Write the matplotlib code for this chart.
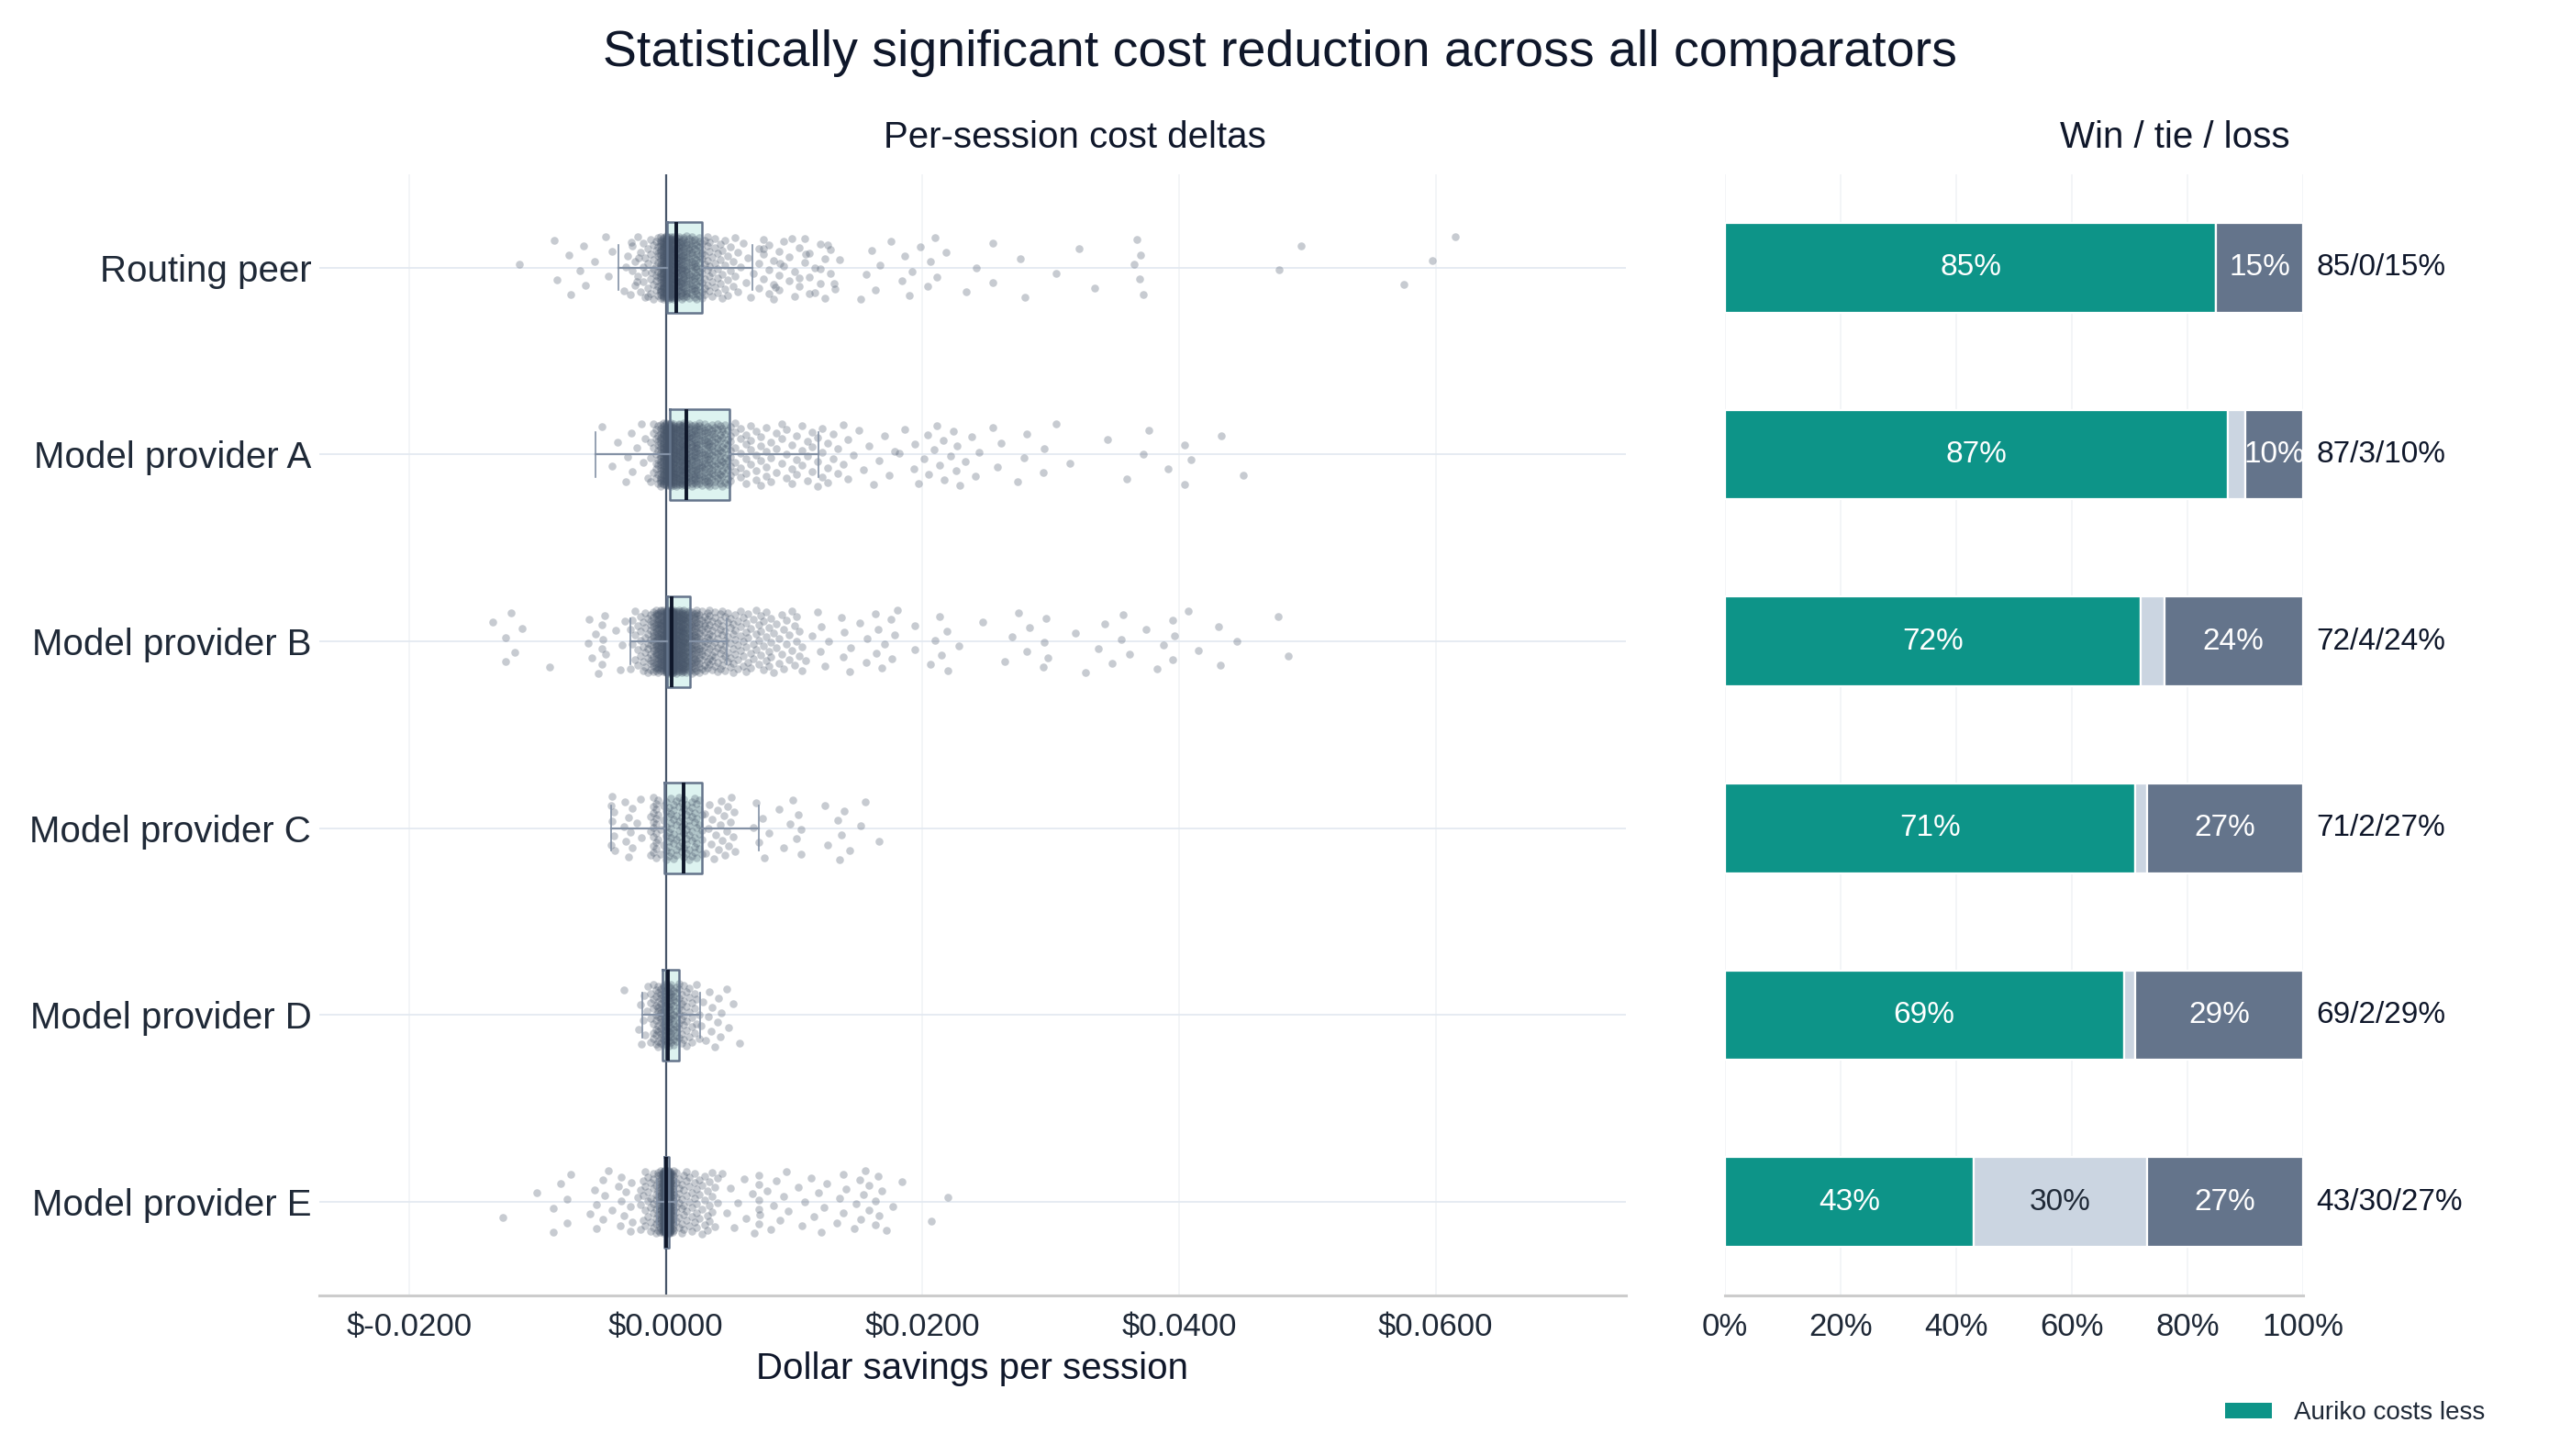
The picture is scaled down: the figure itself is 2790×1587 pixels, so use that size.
import numpy as np
import matplotlib
matplotlib.use('Agg')
import matplotlib.pyplot as plt
from matplotlib.patches import Patch
from matplotlib.ticker import FuncFormatter

plt.rcParams['font.family'] = ['Liberation Sans', 'DejaVu Sans']

categories = ['Routing peer', 'Model provider A', 'Model provider B',
              'Model provider C', 'Model provider D', 'Model provider E']

# per-session deltas, in units of $0.0001 (value -> how many sessions), plus single points
rp_core_vals = [-30, -28, -26, -24, -22, -20, -18, -16, -14, -12, -10, -8, -6, -4, -2,
                0, 2, 4, 6, 8, 10, 12, 14, 16, 18, 20, 22, 24, 26, 28,
                30, 32, 34, 36, 38, 40, 42, 44, 46, 48, 50, 52, 54, 56, 58, 60, 62, 64, 66, 68,
                72, 76, 80, 84, 88, 92, 96, 100, 104, 108, 112, 116, 120, 124, 128, 132]
rp_core_counts = [1, 1, 2, 2, 2, 2, 3, 3, 3, 4, 5, 6, 9, 24, 40,
                  45, 42, 38, 32, 26, 20, 18, 16, 15, 14, 13, 12, 11, 10, 9,
                  6, 5, 5, 4, 4, 4, 3, 3, 3, 3, 2, 2, 2, 2, 1, 1, 1, 1, 1, 1,
                  3, 3, 3, 3, 3, 2, 2, 2, 2, 2, 2, 2, 2, 2, 2, 1]
rp_sparse = [-114, -87, -85, -76, -74, -67, -64, -63, -56, -47, -45, -42, -33, -31, -27, -23, -21, -14, -11,
             76, 85, 89, 98, 104, 109, 112, 120, 126, 131, 135, 152, 156, 160, 163, 167, 175, 184, 186,
             190, 192, 198, 204, 206, 210, 211, 218, 234, 242, 255, 255, 276, 280, 304, 322, 334,
             365, 367, 369, 370, 372, 478, 495, 575, 597, 615]

a_core_vals = [-12, -10, -8, -6, -4, -2, 0, 2, 4, 6, 8, 10, 12, 14, 16,
               18, 20, 22, 24, 26, 28, 30, 32, 34, 36, 38, 40, 42, 44, 46, 48, 50,
               54, 58, 62, 66, 70, 74, 78, 82, 86, 90, 94, 98, 102, 106, 110, 114, 118, 122, 126,
               130, 134, 138, 142, 146, 150, 154, 158, 162, 166, 170, 174, 178]
a_core_counts = [3, 4, 6, 9, 22, 34, 44, 46, 40, 34, 30, 28, 26, 24, 22,
                 18, 17, 16, 15, 14, 14, 13, 12, 12, 11, 11, 10, 10, 9, 9, 8, 8,
                 5, 5, 5, 4, 4, 4, 4, 3, 3, 3, 3, 3, 3, 3, 3, 3, 3, 3, 3,
                 2, 2, 2, 2, 1, 1, 1, 1, 1, 1, 1, 1, 1]
a_sparse = [-50, -42, -38, -31, -30, -27, -26, -23, -19, -18, -16, -14,
            182, 186, 193, 194, 197, 201, 204, 205, 209, 211, 213, 216, 217, 222, 224, 226, 227,
            229, 233, 238, 241, 244, 255, 258, 261, 274, 279, 281, 294, 295, 304, 315, 344, 359,
            372, 376, 391, 404, 404, 409, 433, 450]

b_core_vals = [-28, -26, -24, -22, -20, -18, -16, -14, -12, -10, -8, -6, -4, -2, 0,
               1, 2, 3, 4, 5, 6, 8, 10, 12, 14, 16, 18,
               20, 22, 24, 26, 28, 30, 32, 34, 36, 38, 40, 42, 44, 46, 48, 50, 52, 54, 56, 58,
               60, 62, 64, 66, 68, 70, 72, 74, 76, 78, 80, 82, 84, 86, 88, 90, 92, 94, 96, 98,
               100, 102, 104, 106]
b_core_counts = [2, 2, 3, 3, 4, 4, 5, 6, 10, 14, 18, 22, 28, 34, 40,
                 45, 45, 45, 45, 45, 42, 38, 34, 30, 27, 24, 22,
                 18, 16, 14, 13, 9, 9, 8, 8, 7, 7, 6, 6, 6, 6, 5, 5, 5, 4, 4, 4,
                 4, 4, 3, 3, 3, 3, 3, 3, 3, 3, 3, 3, 2, 2, 2, 2, 2, 2, 2, 2,
                 2, 2, 2, 2]
b_sparse = [-135, -125, -125, -121, -118, -112, -91, -61, -60, -58, -55, -53, -50, -50, -50,
            -49, -48, -47, -39, -36, -34, -32,
            109, 114, 118, 120, 121, 124, 127, 137, 138, 139, 143, 144, 151, 156, 157, 163, 164,
            165, 168, 170, 175, 176, 178, 180, 194, 194, 206, 210, 213, 215, 219, 220, 228, 247,
            264, 270, 275, 281, 283, 294, 295, 296, 298, 319, 327, 337, 342, 348, 355, 356, 361,
            374, 383, 388, 395, 395, 396, 407, 415, 431, 432, 445, 477, 485]

c_core_vals = [-12, -10, -8, -6, -4, -2, 0, 2, 4, 6, 8, 10, 12, 14, 16, 18, 20, 22, 24, 26, 28]
c_core_counts = [3, 8, 8, 3, 2, 3, 6, 6, 6, 6, 6, 6, 6, 6, 6, 6, 6, 6, 5, 5, 4]
c_sparse = [-43, -43, -42, -42, -41, -41, -40, -33, -32, -31, -29, -29, -28, -26, -26, -23, -20, -19,
            30, 31, 33, 34, 35, 36, 37, 39, 40, 41, 42, 43, 44, 45, 46, 47, 48, 49, 50, 51, 52, 53,
            54, 68, 70, 72, 75, 77, 80, 88, 92, 97, 99, 102, 103, 105, 105, 124, 126, 134, 135,
            137, 139, 143, 152, 155, 166]

d_core_vals = [-12, -10, -8, -6, -4, -2, 0, 2, 4, 6, 8, 10, 12, 14, 16, 18, 20, 22, 24, 26]
d_core_counts = [4, 6, 8, 10, 12, 14, 16, 14, 12, 10, 9, 8, 6, 5, 5, 4, 4, 3, 3, 2]
d_sparse = [-33, -21, -20, -19, -18, -17, -16, -15, -14,
            27, 29, 31, 33, 34, 35, 36, 38, 40, 41, 42, 43, 47, 49, 52, 57]

e_core_vals = [-20, -18, -16, -14, -12, -10, -8, -6, -5, -4, -3, -2, -1, 0, 1, 2, 3, 4, 5, 6,
               8, 10, 12, 14, 16, 18, 20, 22, 24, 26, 28, 30, 32, 34, 36, 38, 40]
e_core_counts = [3, 3, 4, 4, 5, 6, 7, 9, 10, 12, 16, 30, 60, 70, 70, 60, 40, 16, 12, 10,
                 6, 6, 5, 5, 5, 4, 4, 4, 4, 3, 3, 3, 3, 3, 3, 2, 2]
e_sparse = [-127, -101, -88, -88, -82, -77, -77, -74, -59, -56, -54, -54, -49, -49, -48, -45, -42,
            -37, -36, -35, -35, -33, -31, -28, -28, -27, -26, -22,
            44, 47, 50, 53, 56, 61, 62, 67, 69, 72, 72, 72, 72, 72, 73, 79, 82, 84, 86, 89, 92, 94,
            95, 103, 106, 108, 113, 115, 119, 121, 123, 125, 133, 135, 138, 138, 140, 147, 148,
            151, 152, 154, 155, 158, 158, 163, 163, 165, 166, 168, 172, 177, 184, 207, 220]

# box statistics, $0.0001 units
box_q1 = [1, 3.3, 0.9, -1.2, -2.4, -1.5]
box_med = [8, 15.8, 4.6, 14, 1.2, 0.3]
box_q3 = [28, 49.7, 19, 28.3, 10, 2.5]
box_lo = [-37, -55, -28, -43, -18.6, -7]
box_hi = [67, 119, 47, 72, 26.7, 8]

# win / tie / loss shares (%)
win = [85, 87, 72, 71, 69, 43]
tie = [0, 3, 4, 2, 2, 30]
loss = [15, 10, 24, 27, 29, 27]

core_vals = [rp_core_vals, a_core_vals, b_core_vals, c_core_vals, d_core_vals, e_core_vals]
core_counts = [rp_core_counts, a_core_counts, b_core_counts, c_core_counts, d_core_counts, e_core_counts]
sparse = [rp_sparse, a_sparse, b_sparse, c_sparse, d_sparse, e_sparse]

teal = '#0D9488'
tie_c = '#CBD5E1'
loss_c = '#64748B'
dark = '#0F172A'
txt = '#1F2937'
unit = 1e-4

fig = plt.figure(figsize=(13.95, 7.935), dpi=200)
ax = fig.add_axes([0.1246, 0.1103, 0.5104, 0.7700])
ax2 = fig.add_axes([0.6738, 0.1103, 0.2258, 0.7700])

ypos = np.arange(len(categories))

# ---- left: per-session deltas ----
ax.barh(ypos, (np.array(box_q3) - np.array(box_q1)) * unit, left=np.array(box_q1) * unit,
        height=0.485, color='#DDF3F0', zorder=1)
ax.axvline(0, color='#475569', lw=0.8, zorder=1.5)

for i in range(len(categories)):
    v = np.concatenate([np.repeat(core_vals[i], core_counts[i]), sparse[i]]) * unit
    n = len(v)
    jit = (((np.arange(n) + 0.5) * 0.6180339887) % 1.0 - 0.5) * 2 * 0.17
    ax.scatter(v, ypos[i] + jit, s=9.5, color='#475569', alpha=0.3, linewidths=0, zorder=2)

stats = [dict(med=box_med[i] * unit, q1=box_q1[i] * unit, q3=box_q3[i] * unit,
              whislo=box_lo[i] * unit, whishi=box_hi[i] * unit, fliers=[])
         for i in range(len(categories))]
ax.bxp(stats, positions=ypos, widths=0.485, orientation='horizontal', showfliers=False,
       manage_ticks=False, zorder=3,
       boxprops=dict(color='#64748B', lw=0.9),
       whiskerprops=dict(color='#8391A5', lw=0.8),
       capprops=dict(color='#8391A5', lw=0.6),
       medianprops=dict(color=dark, lw=1.4))

ax.set_xlim(-0.02705, 0.0748)
ax.set_ylim(5.5, -0.5)
ax.set_xticks([-0.02, 0.0, 0.02, 0.04, 0.06])
ax.xaxis.set_major_formatter(FuncFormatter(lambda v, p: f'${v:.4f}'))
ax.set_yticks(ypos)
ax.set_yticklabels(categories)
ax.tick_params(axis='x', length=0, pad=6.5, labelsize=12.5, labelcolor=txt)
ax.tick_params(axis='y', length=0, pad=3, labelsize=14.5, labelcolor=txt)
ax.grid(axis='x', color='#F1F3F6', lw=0.6, zorder=0)
ax.grid(axis='y', color='#E2E8F0', lw=0.6, zorder=0)
ax.set_axisbelow(True)
for s in ['top', 'right', 'left']:
    ax.spines[s].set_visible(False)
ax.spines['bottom'].set_color('#CCCCCC')
ax.spines['bottom'].set_linewidth(1.1)
ax.set_xlabel('Dollar savings per session', fontsize=14.5, color=dark, labelpad=3.5)

# ---- right: win / tie / loss ----
w = np.array(win) / 100
t = np.array(tie) / 100
l = np.array(loss) / 100
ax2.barh(ypos, w, height=0.48, color=teal, edgecolor='white', lw=0.8, zorder=2)
ax2.barh(ypos, t, left=w, height=0.48, color=tie_c, edgecolor='white', lw=0.8, zorder=2)
ax2.barh(ypos, l, left=w + t, height=0.48, color=loss_c, edgecolor='white', lw=0.8, zorder=2)

for i in range(len(categories)):
    if win[i] >= 10:
        ax2.text(w[i] / 2, ypos[i], f'{win[i]}%', ha='center', va='center', color='white', fontsize=12)
    if tie[i] >= 10:
        ax2.text(w[i] + t[i] / 2, ypos[i], f'{tie[i]}%', ha='center', va='center', color=txt, fontsize=12)
    if loss[i] >= 10:
        ax2.text(w[i] + t[i] + l[i] / 2, ypos[i], f'{loss[i]}%', ha='center', va='center',
                 color='white', fontsize=12)
    ax2.text(1.023, ypos[i], f'{win[i]}/{tie[i]}/{loss[i]}%', ha='left', va='center',
             color=dark, fontsize=12, clip_on=False)

ax2.set_xlim(0, 1)
ax2.set_ylim(5.5, -0.5)
ax2.set_xticks([0, 0.2, 0.4, 0.6, 0.8, 1.0])
ax2.xaxis.set_major_formatter(FuncFormatter(lambda v, p: f'{v * 100:.0f}%'))
ax2.set_yticks([])
ax2.tick_params(axis='x', length=0, pad=6.5, labelsize=12.5, labelcolor=txt)
ax2.grid(axis='x', color='#F1F3F6', lw=0.6, zorder=0)
ax2.set_axisbelow(True)
for s in ['top', 'right', 'left']:
    ax2.spines[s].set_visible(False)
ax2.spines['bottom'].set_color('#CCCCCC')
ax2.spines['bottom'].set_linewidth(1.1)

# ---- titles and legend ----
fig.text(0.5, 0.9632, 'Statistically significant cost reduction across all comparators',
         ha='center', va='center', fontsize=20, color=dark)
fig.text(0.4199, 0.9055, 'Per-session cost deltas', ha='center', va='center', fontsize=14.5, color=dark)
fig.text(0.8497, 0.9055, 'Win / tie / loss', ha='center', va='center', fontsize=14.5, color=dark)

fig.legend(handles=[Patch(facecolor=teal, edgecolor='none')], labels=['Auriko costs less'],
           loc='center left', bbox_to_anchor=(0.8692, 0.0295), frameon=False, fontsize=10,
           handlelength=1.84, handleheight=0.54, handletextpad=0.86, borderpad=0, borderaxespad=0,
           labelcolor=txt)

fig.savefig('out.png', dpi=200, facecolor='white')
